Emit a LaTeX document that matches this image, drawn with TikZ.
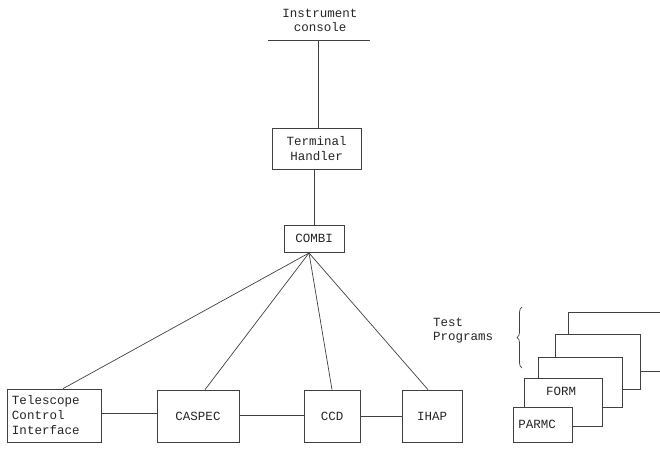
\documentclass[tikz,border=0pt]{standalone}
\usepackage{fontspec}
\setmainfont{Liberation Mono}
\usetikzlibrary{decorations.pathreplacing}

\tikzset{
  wire/.style={draw=black!75, line width=0.7pt},
  box/.style={wire, fill=white, inner sep=0pt, font=\fontsize{12.5}{15}\selectfont, text=black!85},
  label/.style={inner sep=0pt, font=\fontsize{12.5}{14}\selectfont, text=black!85}
}

\begin{document}
\begin{tikzpicture}[x=1pt, y=-1pt]
  \useasboundingbox (0, 0) rectangle (660, 448);
  \clip (0, 0) rectangle (660, 448);
  % instrument console
  \node [label, align=center] (console) at (320, 20) {Instrument\\console};
  \draw [wire] (268, 40) -- (370, 40);
  \coordinate (tap) at (318, 40);
  % control chain
  \node [box, minimum width=89, minimum height=41, align=center] (th) at (316.5, 148.5) {Terminal\\Handler};
  \node [box, minimum width=60, minimum height=27] (combi) at (314, 238.5) {COMBI};
  \coordinate (hub) at (309, 253);
  \draw [wire] (tap) -- (tap |- th.north);
  \draw [wire] (combi.north |- th.south) -- (combi.north);
  % instruments
  \node [box, minimum width=94, minimum height=53, align=left, text width=84] (tci) at (54, 415.5) {Telescope\\Control\\Interface};
  \node [box, minimum width=82, minimum height=52] (caspec) at (198, 416) {CASPEC};
  \node [box, minimum width=56, minimum height=52] (ccd) at (332, 416) {CCD};
  \node [box, minimum width=60, minimum height=52] (ihap) at (432, 416) {IHAP};
  \draw [wire] (hub) -- ([xshift=9]tci.north);
  \draw [wire] (hub) -- ([xshift=7]caspec.north);
  \draw [wire] (hub) -- (ccd.north);
  \draw [wire] (hub) -- ([xshift=-4]ihap.north);
  \draw [wire] (tci.east |- 0, 413) -- (caspec.west |- 0, 413);
  \draw [wire] (caspec.east |- 0, 415) -- (ccd.west |- 0, 415);
  \draw [wire] (ccd) -- (ihap);
  % test programs
  \node [label, align=left, anchor=west] (tests) at (433, 331) {Test\\Programs};
  \draw [wire, decorate, decoration={brace, amplitude=5}] (522, 368) -- (522, 307);
  \draw [wire, fill=white] (568, 312) rectangle (680, 371);
  \draw [wire, fill=white] (555, 334) rectangle (640, 389);
  \draw [wire, fill=white] (538, 357) rectangle (622, 407);
  \node [box, minimum width=78, minimum height=48, anchor=north west] (form) at (524, 378) {};
  \node [label] at (561, 391) {FORM};
  \node [box, minimum width=59, minimum height=35, anchor=north west] (parmc) at (513, 407) {};
  \node [label] at (537, 424) {PARMC};
\end{tikzpicture}
\end{document}
